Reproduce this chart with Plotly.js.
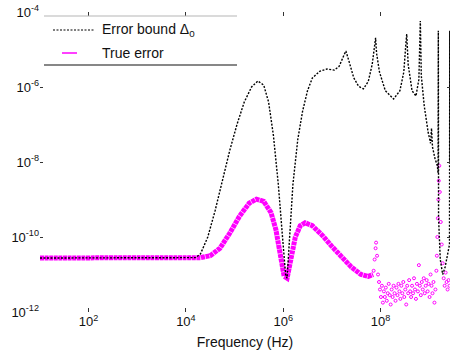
<!DOCTYPE html>
<html>
<head>
<meta charset="utf-8">
<script src="https://cdn.plot.ly/plotly-3.0.1.min.js"></script>
<style>html,body{margin:0;padding:0;background:#fff;}#chart{width:451px;height:360px;}</style>
</head>
<body>
<div id="chart"></div>
<script>
// All values are log10 exponents (frequency in Hz, error magnitude)
var boundFreqExp = [1.0, 2.0, 3.0, 4.0, 4.2, 4.3, 4.45, 4.6, 4.75, 4.9, 5.05, 5.2, 5.35, 5.48, 5.6, 5.7, 5.8, 5.9, 5.98, 6.05, 6.08, 6.12, 6.2, 6.3, 6.4, 6.5, 6.6, 6.75, 6.9, 7.05, 7.15, 7.25, 7.29, 7.35, 7.45, 7.55, 7.65, 7.75, 7.83, 7.88, 7.9, 7.92, 7.98, 8.1, 8.27, 8.4, 8.48, 8.52, 8.54, 8.57, 8.65, 8.73, 8.79, 8.82, 8.84, 8.9, 8.98, 9.03, 9.05, 9.07, 9.12, 9.17, 9.185, 9.19, 9.195, 9.23, 9.28, 9.33, 9.38, 9.42, 9.425, 9.43];
var boundErrExp  = [-10.56, -10.56, -10.56, -10.56, -10.55, -10.45, -10.0, -9.3, -8.5, -7.7, -7.0, -6.4, -6.0, -5.84, -5.95, -6.4, -7.3, -8.6, -9.9, -11.0, -11.1, -10.2, -8.6, -7.4, -6.64, -6.1, -5.76, -5.58, -5.52, -5.55, -5.45, -5.15, -5.04, -5.3, -5.75, -5.98, -6.05, -5.85, -5.4, -4.9, -4.69, -5.1, -5.6, -6.1, -6.32, -6.1, -5.6, -4.9, -4.59, -5.4, -6.1, -6.24, -5.8, -4.24, -5.7, -6.5, -7.2, -7.5, -7.1, -7.6, -7.9, -8.1, -8.3, -4.5, -9.5, -10.6, -11.0, -10.8, -10.5, -10.2, -4.5, -8.0];

var trueFreqExp = [1.0, 2.0, 3.0, 4.0, 4.3, 4.5, 4.7, 4.9, 5.1, 5.3, 5.45, 5.6, 5.75, 5.85, 5.95, 6.02, 6.08, 6.15, 6.25, 6.35, 6.45, 6.6, 6.8, 7.0, 7.2, 7.4, 7.6, 7.75, 7.85];
var trueErrExp  = [-10.56, -10.56, -10.56, -10.56, -10.55, -10.5, -10.3, -9.9, -9.45, -9.1, -8.99, -9.05, -9.35, -9.8, -10.5, -11.05, -11.1, -10.6, -10.0, -9.7, -9.62, -9.7, -9.95, -10.25, -10.55, -10.8, -11.0, -11.05, -11.0];

var trueNoisyFreqExp = [7.86, 7.88, 7.9, 7.91, 7.93, 7.95, 7.97, 7.99, 8.01, 8.03, 8.05, 8.07, 8.09, 8.11, 8.13, 8.15, 8.17, 8.19, 8.21, 8.23, 8.25, 8.27, 8.29, 8.31, 8.33, 8.35, 8.37, 8.39, 8.41, 8.43, 8.45, 8.47, 8.49, 8.51, 8.53, 8.55, 8.57, 8.59, 8.61, 8.63, 8.65, 8.67, 8.69, 8.71, 8.73, 8.75, 8.77, 8.79, 8.81, 8.83, 8.85, 8.87, 8.89, 8.91, 8.93, 8.95, 8.97, 8.99, 9.01, 9.03, 9.05, 9.07, 9.09, 9.11, 9.13, 9.15, 9.16, 9.17, 9.18, 9.19, 9.2, 9.21, 9.22, 9.24, 9.26, 9.28, 9.3, 9.32, 9.34, 9.36, 9.38, 9.4, 9.42];
var trueNoisyErrExp  = [-10.9, -10.6, -10.3, -10.15, -10.5, -11.0, -11.2, -11.4, -11.6, -11.3, -11.75, -11.45, -11.6, -11.35, -11.7, -11.5, -11.25, -11.55, -11.8, -11.4, -11.6, -11.3, -11.5, -11.7, -11.35, -11.55, -11.25, -11.45, -11.65, -11.3, -11.5, -11.2, -11.6, -11.4, -11.8, -11.3, -11.5, -11.15, -11.45, -11.6, -11.3, -11.5, -11.1, -11.4, -11.65, -11.25, -11.45, -10.75, -11.3, -11.55, -11.2, -11.4, -11.1, -11.5, -11.3, -11.15, -11.45, -11.25, -11.6, -11.0, -11.3, -11.5, -11.2, -11.75, -11.4, -10.9, -10.5, -10.0, -9.5, -9.0, -8.5, -8.1, -8.8, -9.6, -10.2, -10.7, -11.1, -11.3, -10.95, -11.2, -11.4, -11.15, -11.3];

var xTickExp = [2, 4, 6, 8];
var yTickExp = [-12, -10, -8, -6, -4];
var legendLabels = ["Error bound \u0394<sub>0</sub>", "True error"];
var xTitle = "Frequency (Hz)";

function pow10(a) { return a.map(function (v) { return Math.pow(10, v); }); }
function tickText(a) { return a.map(function (v) { return "10<sup>" + v + "</sup>"; }); }

var L = 40, T = 12, W = 410, H = 300;
function px(x) { return (x - L) / W; }
function py(y) { return (T + H - y) / H; }

var magenta = '#ff00ff';
var traces = [
  { x: pow10(trueFreqExp), y: pow10(trueErrExp), mode: 'lines', name: legendLabels[1],
    line: { color: magenta, width: 5, dash: '4px,0.6px' }, showlegend: false, hoverinfo: 'skip' },
  { x: pow10(trueNoisyFreqExp), y: pow10(trueNoisyErrExp), mode: 'markers', name: legendLabels[1],
    marker: { color: magenta, size: 3, symbol: 'circle-open', line: { width: 1, color: magenta } },
    showlegend: false, hoverinfo: 'skip' },
  { x: pow10(boundFreqExp), y: pow10(boundErrExp), mode: 'lines', name: legendLabels[0],
    line: { color: '#000', width: 1.4, dash: '2px,1.5px' }, showlegend: false, hoverinfo: 'skip' }
];

var fontFam = 'Liberation Sans, Arial, sans-serif';
var layout = {
  width: 451, height: 360,
  margin: { l: L, r: 451 - L - W, t: T, b: 360 - T - H, pad: 0 },
  paper_bgcolor: '#fff', plot_bgcolor: '#fff',
  font: { family: fontFam, size: 13, color: '#111' },
  xaxis: {
    type: 'log', range: [1, 9.43], showgrid: false, zeroline: false, showline: false,
    tickvals: pow10(xTickExp), ticktext: tickText(xTickExp),
    ticks: 'inside', ticklen: 4, tickcolor: '#333', mirror: 'ticks',
    tickfont: { size: 13, family: fontFam },
    title: { text: xTitle, font: { size: 14, family: fontFam }, standoff: 9 }
  },
  yaxis: {
    type: 'log', range: [-12, -4], showgrid: false, zeroline: false, showline: false,
    tickvals: pow10(yTickExp), ticktext: tickText(yTickExp),
    ticks: 'inside', ticklen: 3, tickcolor: '#333', mirror: 'ticks',
    tickfont: { size: 13, family: fontFam }
  },
  shapes: [
    { type: 'line', xref: 'paper', yref: 'paper', x0: px(44), x1: px(237), y0: py(16), y1: py(16), line: { color: '#b5b5b5', width: 1 } },
    { type: 'line', xref: 'paper', yref: 'paper', x0: px(44), x1: px(237), y0: py(65), y1: py(65), line: { color: '#111', width: 1.2 } },
    { type: 'line', xref: 'paper', yref: 'paper', x0: px(53), x1: px(95), y0: py(30), y1: py(30), line: { color: '#000', width: 1.2, dash: '2px,1.5px' } },
    { type: 'line', xref: 'paper', yref: 'paper', x0: px(62), x1: px(77), y0: py(53), y1: py(53), line: { color: magenta, width: 1.5 } }
  ],
  annotations: [
    { xref: 'paper', yref: 'paper', x: px(100), y: py(30), xanchor: 'left', yanchor: 'middle', showarrow: false,
      text: legendLabels[0], font: { size: 14, family: fontFam, color: '#111' } },
    { xref: 'paper', yref: 'paper', x: px(100), y: py(53), xanchor: 'left', yanchor: 'middle', showarrow: false,
      text: legendLabels[1], font: { size: 14, family: fontFam, color: '#111' } }
  ],
  showlegend: false
};

Plotly.newPlot('chart', traces, layout, { staticPlot: true, displayModeBar: false });
</script>
</body>
</html>
